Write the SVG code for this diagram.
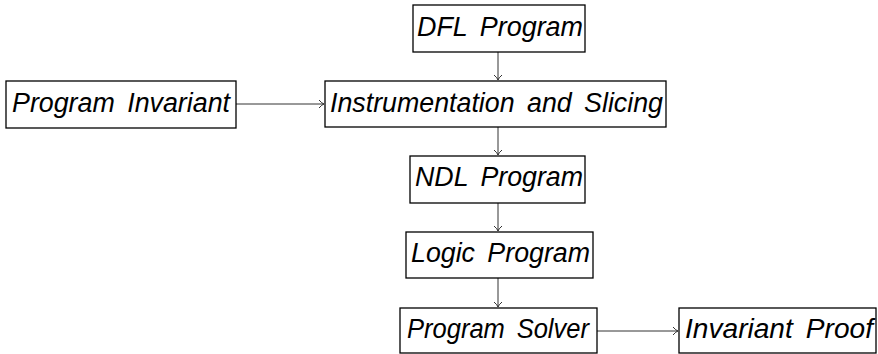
<svg xmlns="http://www.w3.org/2000/svg" width="878" height="354" viewBox="0 0 878 354">
  <style>
    .box { fill: #ffffff; stroke: #000000; stroke-width: 1.3; }
    .lbl { font-family: "Liberation Sans", Arial, sans-serif; font-style: italic; font-size: 27px; word-spacing: 5px; fill: #000000; }
    .edge { fill: none; stroke: #333333; stroke-width: 1; marker-end: url(#to); }
  </style>
  <defs>
    <marker id="to" viewBox="-6 -5 8 10" refX="0" refY="0" markerWidth="8" markerHeight="10" markerUnits="userSpaceOnUse" orient="auto">
      <path d="M -5 -4 Q -2 -0.5 0 0 Q -2 0.5 -5 4" fill="none" stroke="#333333" stroke-width="1"/>
    </marker>
  </defs>

  <g id="edges">
    <line class="edge" x1="498" y1="52" x2="498" y2="80"/>
    <line class="edge" x1="236" y1="104" x2="324" y2="104"/>
    <line class="edge" x1="498" y1="127" x2="498" y2="155"/>
    <line class="edge" x1="498" y1="203" x2="498" y2="231"/>
    <line class="edge" x1="498" y1="278" x2="498" y2="307"/>
    <line class="edge" x1="597" y1="331" x2="678" y2="331"/>
  </g>

  <g id="dfl-program">
    <rect class="box" x="413" y="5" width="172" height="47"/>
    <text class="lbl" x="417" y="36" textLength="166" lengthAdjust="spacingAndGlyphs">DFL Program</text>
  </g>

  <g id="program-invariant">
    <rect class="box" x="6" y="81" width="230" height="47"/>
    <text class="lbl" x="12" y="112" textLength="218" lengthAdjust="spacingAndGlyphs">Program Invariant</text>
  </g>

  <g id="instrumentation-slicing">
    <rect class="box" x="325" y="81" width="341" height="46"/>
    <text class="lbl" x="330" y="112" textLength="333" lengthAdjust="spacingAndGlyphs">Instrumentation and Slicing</text>
  </g>

  <g id="ndl-program">
    <rect class="box" x="410" y="156" width="175" height="47"/>
    <text class="lbl" x="415" y="186" textLength="168" lengthAdjust="spacingAndGlyphs">NDL Program</text>
  </g>

  <g id="logic-program">
    <rect class="box" x="406" y="232" width="187" height="46"/>
    <text class="lbl" x="411" y="262" textLength="179" lengthAdjust="spacingAndGlyphs">Logic Program</text>
  </g>

  <g id="program-solver">
    <rect class="box" x="400" y="308" width="197" height="45"/>
    <text class="lbl" x="407" y="338" textLength="182" lengthAdjust="spacingAndGlyphs">Program Solver</text>
  </g>

  <g id="invariant-proof">
    <rect class="box" x="679" y="308" width="197" height="45"/>
    <text class="lbl" x="685" y="338" textLength="188" lengthAdjust="spacingAndGlyphs">Invariant Proof</text>
  </g>
</svg>
